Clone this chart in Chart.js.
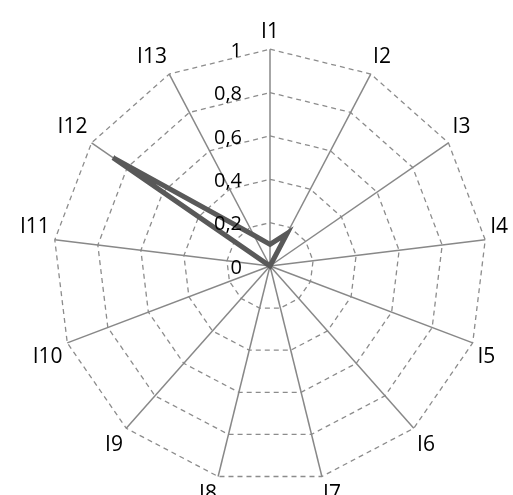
<!doctype html>
<html>
<head>
<meta charset="utf-8">
<script src="https://cdn.jsdelivr.net/npm/chart.js"></script>
<style>
  body { margin: 0; background: #fff; overflow: hidden; }
  #wrap { position: absolute; left: 8px; top: 16px; width: 513px; height: 495px; }
</style>
</head>
<body>
<div id="wrap"><canvas id="chart"></canvas></div>
<script>
const categories = ["I1", "I2", "I3", "I4", "I5", "I6", "I7", "I8", "I9", "I10", "I11", "I12", "I13"];
const seriesValues = [0.1, 0.17, 0, 0, 0, 0, 0, 0, 0, 0, 0, 0.88, 0.16];
const tickValues = [0, 0.2, 0.4, 0.6, 0.8, 1];
const tickLabels = ["0", "0,2", "0,4", "0,6", "0,8", "1"];

// tick labels sit left of the vertical axis, like the original
const tickLabelPlugin = {
  id: "tickLabels",
  afterDraw(chart) {
    const r = chart.scales.r;
    const ctx = chart.ctx;
    ctx.save();
    ctx.font = "20px 'Open Sans'";
    ctx.fillStyle = "#000";
    ctx.textAlign = "right";
    ctx.textBaseline = "middle";
    tickValues.forEach((v, i) => {
      const d = r.getDistanceFromCenterForValue(v);
      ctx.fillText(tickLabels[i], r.xCenter - 28, r.yCenter - d + 2);
    });
    ctx.restore();
  }
};

new Chart(document.getElementById("chart"), {
  type: "radar",
  data: {
    labels: categories,
    datasets: [{
      data: seriesValues,
      borderColor: "#595959",
      borderWidth: 5,
      backgroundColor: "transparent",
      pointRadius: 0,
      fill: false
    }]
  },
  options: {
    responsive: true,
    maintainAspectRatio: false,
    animation: false,
    plugins: { legend: { display: false }, tooltip: { enabled: false } },
    scales: {
      r: {
        min: 0,
        max: 1,
        ticks: { stepSize: 0.2, display: false },
        grid: { color: "#8c8c8c", lineWidth: 1.3, circular: false },
        border: { dash: [5, 4] },
        angleLines: { color: "#888", lineWidth: 1.5 },
        pointLabels: { font: { size: 21, family: "'Open Sans'" }, color: "#000", padding: 5 }
      }
    }
  },
  plugins: [tickLabelPlugin]
});
</script>
</body>
</html>
